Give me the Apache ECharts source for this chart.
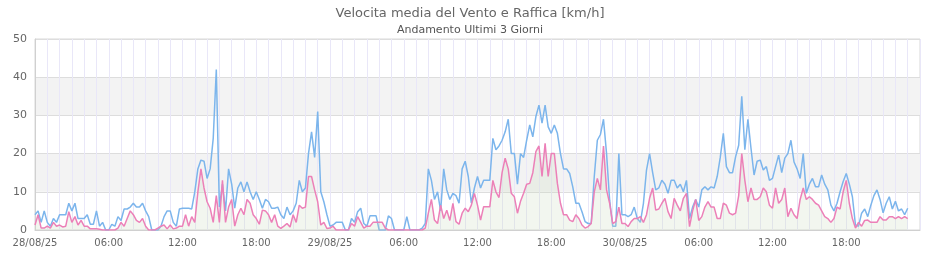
<!DOCTYPE html>
<html><head><meta charset="utf-8">
<script src="https://cdn.jsdelivr.net/npm/echarts@6/dist/echarts.min.js"></script>
<style>html,body{margin:0;padding:0;background:#fff}#c{width:940px;height:260px}</style>
</head><body><div id="c"></div>
<script>
const titleText = 'Velocita media del Vento e Raffica [km/h]';
const subtitleText = 'Andamento Ultimi 3 Giorni';
// x tick labels every 6 hours, starting 28/08/25 00:00
const xTickLabels = ['28/08/25','06:00','12:00','18:00','29/08/25','06:00','12:00','18:00','30/08/25','06:00','12:00','18:00'];
const stepHours = 0.25; // readings every 15 minutes from 28/08/25 00:00
const yTicks = [0, 10, 20, 30, 40, 50];

// Raffica (gust) km/h
const raffica = [
  4,5,2,5, 2,1,3,2, 4,4,4,7, 5,7,3,3, 3,4,1.5,1.5, 5,1,2,0, 0,1.5,1,3.5, 2.5,5.5,5.5,6, 7,6,6,7, 5,3.5,0,0, 0,1,3.5,5, 5,2,1,5.5,
  5.7,5.7,5.7,5.5, 10,16,18.3,18, 13.5,16,24,42, 6,12,5,16, 12,5.7,11,12.6, 10,12.6,10,8, 10,8,5.7,8, 7.4,5.7,5.7,6, 4,3,6,4, 5,7,13,10, 11,20,25.7,19, 31,10,7.4,4,
  1,1.3,2,2, 2,0,0,3, 2,4.8,5.7,1.7, 1,3.7,3.7,3.7, 0,0,0,3.7, 3,0,0,0, 0,3.5,0,0, 0,0,0.5,1.7, 16,13,8,10, 5,16,10.5,8, 9.6,9,7,16, 18,14,7,11,
  14,11,13,13, 13,24,21,22, 23.5,25.7,29,20, 20,12,20,19, 23.5,27.5,24.4,29.7, 32.7,28,32.7,27, 25.3,27.5,25.3,20, 16,16,14.8,11.3, 7,7,4.8,2.2, 1.7,1.7,14,23.5, 25,29,20,7.8, 1,1,20,4,
  4,3.5,4,6, 3,2,7,15.7, 20,15,10.5,11, 13,12,9.6,13, 13,11,12,10, 13,3,6,8, 6,10.5,11.3,10.5, 11.3,11,14,19, 25.3,16.6,15,15, 19.2,22.2,35,21, 29,21.4,14.4,18, 18.3,15.7,16.6,13,
  13.5,16.6,19.6,15, 18.8,20,23.5,17.8, 16,13.5,20,9.6, 12,13.5,11.3,11.3, 14.4,12,10.5,6.5, 5,7,10,12.7, 14.8,12,8.7,1.3, 1,4.4,5.5,3.5, 6.5,9,10.5,8, 4.5,7,8.7,5.5, 7.5,5,5.5,4, 5.7
];
// Velocita media km/h
const media = [
  1.3,4,0.5,0.5, 1,0.5,2,1, 1.3,0.8,1,4.8, 2,3.5,1.3,2.5, 1,1,0.3,0.3, 0.3,0.2,0,0, 0,0,0,0.5, 2,1,3,5, 4,2.5,2,3, 1,0,0,0, 0.5,1,1.3,0.3, 1.3,0.3,0.5,1,
  1,4,1,3.5, 2,10,16,11, 7.4,5.7,2,9, 2,13,2,6, 8,1,4,5.7, 4,8,7,4, 3,1.5,5.2,5, 4,2,4,1, 0.4,1,1.7,0.8, 4,2,6.5,5.7, 6,14,14,10.5, 7.4,1.3,2,0.4,
  0.5,1,0,0, 0,0,0,1.7, 1,3.5,2,0.5, 1,1,2,2, 2,2,0.5,0, 0,0,0,0, 0,0,0,0, 0,0,0,0.5, 4.4,8,2.6,1.7, 6.5,3,5.2,2.5, 7,2.2,1.5,4.4, 5.7,4.8,6.5,9.6,
  6.5,2.6,6.1,6.1, 6.1,13,10,8.5, 15,18.8,16,9.6, 8.7,4.4,7.5,9.6, 12,12.2,15,20.5, 22,14,22.7,14, 20,20,12.2,7, 4,4,2.6,2.2, 4,3,1.3,0.5, 0.9,1.7,10,13.5, 10.5,22,10.5,7, 1.7,2.2,6,1.7,
  1.7,0.9,2.2,3, 3,3.5,2,4, 8.3,11,5.2,5.5, 7,8.3,4.8,3, 8.3,6.5,5,8.3, 9.6,0.9,5,8, 2.5,3.5,6,7.4, 6,6,3,3, 7,6.5,4.4,4, 4.4,9,20,13, 7.4,11,8,8, 8.7,11,10,6.5,
  5.7,11,7,8, 11,3.5,5.7,4, 3,8,11,8, 8.7,8,7,6.5, 5,3.5,3,2, 3,6,5.5,10, 13,7,3,0.5, 2,1,2.5,2.6, 2,2,2,3.5, 2.6,2.6,3.5,3.5, 3,3.5,3,3.5, 3
];

const toPairs = arr => arr.map((v, i) => [i * stepHours, v]);

const chart = echarts.init(document.getElementById('c'), null, {renderer: 'canvas'});
const font = 'DejaVu Sans';
chart.setOption({
  animation: false,
  backgroundColor: '#ffffff',
  title: {
    text: titleText, subtext: subtitleText, left: 'center', top: 2, itemGap: 5,
    textStyle: {fontFamily: font, fontSize: 13, fontWeight: 'normal', color: '#666666'},
    subtextStyle: {fontFamily: font, fontSize: 11, color: '#555555'}
  },
  grid: {left: 35, right: 20, top: 39, bottom: 30, show: true, borderColor: '#d8d8d8', borderWidth: 1, backgroundColor: 'transparent'},
  xAxis: {
    type: 'value', min: 0, max: 72, interval: 1,
    axisLine: {show: true, lineStyle: {color: '#d0d0d0'}},
    axisTick: {show: false},
    splitLine: {show: true, lineStyle: {color: '#e9e7f8', width: 1}},
    axisLabel: {
      fontFamily: font, fontSize: 10, color: '#666666', margin: 8, showMaxLabel: false,
      formatter: v => (v % 6 === 0 && xTickLabels[v / 6] !== undefined) ? xTickLabels[v / 6] : ''
    }
  },
  yAxis: {
    type: 'value', min: yTicks[0], max: yTicks[yTicks.length - 1], interval: 10,
    axisLine: {show: true, lineStyle: {color: '#d0d0d0'}},
    axisTick: {show: false},
    splitLine: {show: true, lineStyle: {color: '#dddddd'}},
    splitArea: {show: true, areaStyle: {color: ['rgba(0,0,0,0)', '#f3f3f3']}},
    axisLabel: {fontFamily: font, fontSize: 11, color: '#666666', margin: 8}
  },
  series: [
    {
      name: 'Raffica', type: 'line', data: toPairs(raffica), showSymbol: false, symbol: 'none',
      lineStyle: {color: '#7cb5ec', width: 1.5}, itemStyle: {color: '#7cb5ec'}, z: 2
    },
    {
      name: 'Velocita media', type: 'line', data: toPairs(media), showSymbol: false, symbol: 'none',
      lineStyle: {color: '#ec80b8', width: 1.5}, itemStyle: {color: '#ec80b8'},
      areaStyle: {color: 'rgba(200,220,190,0.35)'}, z: 3
    }
  ]
});
</script></body></html>
